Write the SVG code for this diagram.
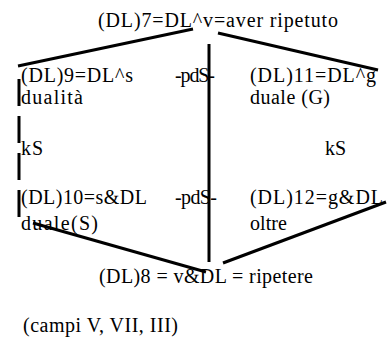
<svg xmlns="http://www.w3.org/2000/svg" width="388" height="340" viewBox="0 0 388 340">
<style>
text{font-family:'Liberation Serif','Times New Roman',Times,serif;font-size:20px;fill:#000}
.c line{stroke:#000;stroke-width:3;stroke-linecap:butt}
</style>
<rect width="388" height="340" fill="#fff"/>
<g class="c" id="connectors">
<line x1="193" y1="29" x2="18" y2="66"/>
<line x1="218" y1="33" x2="378" y2="70"/>
<line x1="209" y1="44" x2="209" y2="262"/>
<line x1="19" y1="79" x2="19" y2="219" stroke-dasharray="27 10"/>
<line x1="33" y1="223" x2="206" y2="272"/>
<line x1="386" y1="202" x2="223" y2="263"/>
</g>
<g font-family="Liberation Serif, serif">
<g id="n7"><text x="98" y="27" textLength="240" lengthAdjust="spacing">(DL)7=DL^v=aver ripetuto</text></g>
<g id="n9"><text x="21" y="82" textLength="112" lengthAdjust="spacing">(DL)9=DL^s</text><text x="21" y="104" textLength="62" lengthAdjust="spacing">dualità</text></g>
<g id="p1"><text x="175" y="82" textLength="40" lengthAdjust="spacing">-pdS-</text></g>
<g id="n11"><text x="250" y="82" textLength="126" lengthAdjust="spacing">(DL)11=DL^g</text><text x="250" y="104" textLength="80" lengthAdjust="spacing">duale (G)</text></g>
<g id="k1"><text x="21" y="155" textLength="22" lengthAdjust="spacing">kS</text></g>
<g id="k2"><text x="325" y="155" textLength="21" lengthAdjust="spacing">kS</text></g>
<g id="n10"><text x="21" y="204" textLength="126" lengthAdjust="spacing">(DL)10=s&amp;DL</text><text x="21" y="230" textLength="77" lengthAdjust="spacing">duale(S)</text></g>
<g id="p2"><text x="175" y="204" textLength="42" lengthAdjust="spacing">-pdS-</text></g>
<g id="n12"><text x="250" y="204" textLength="133" lengthAdjust="spacing">(DL)12=g&amp;DL</text><text x="250" y="230" textLength="37" lengthAdjust="spacing">oltre</text></g>
<g id="n8"><text x="99" y="283" textLength="214" lengthAdjust="spacing">(DL)8 = v&amp;DL = ripetere</text></g>
<g id="note"><text x="23" y="332" textLength="155" lengthAdjust="spacing">(campi V, VII, III)</text></g>
</g>
</svg>
